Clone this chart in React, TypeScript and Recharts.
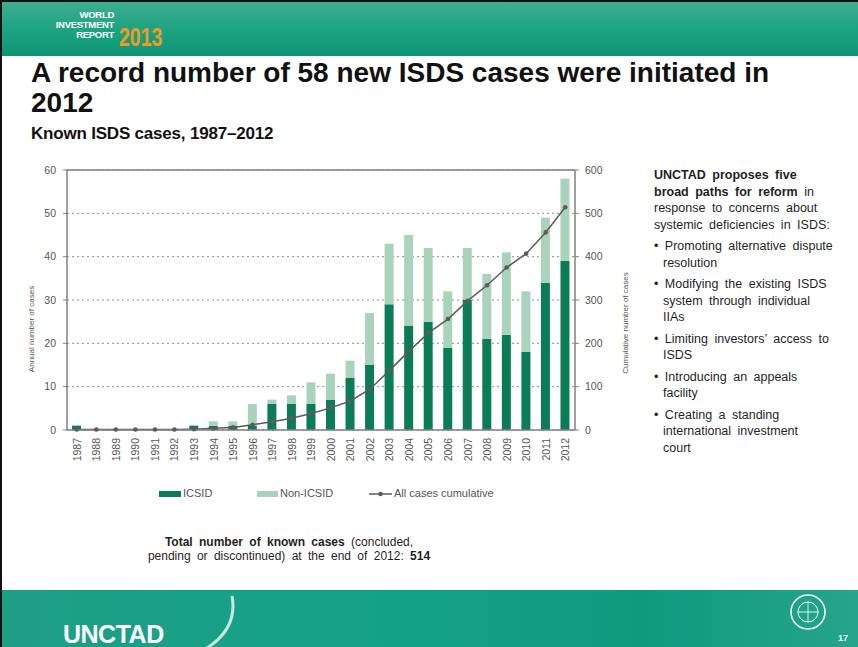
import {
  Bar,
  CartesianGrid,
  ComposedChart,
  Line,
  ReferenceLine,
  XAxis,
  YAxis,
} from "recharts";

const years = [
  "1987", "1988", "1989", "1990", "1991", "1992", "1993", "1994", "1995",
  "1996", "1997", "1998", "1999", "2000", "2001", "2002", "2003", "2004",
  "2005", "2006", "2007", "2008", "2009", "2010", "2011", "2012",
];
const icsidCases = [
  1, 0, 0, 0, 0, 0, 1, 1, 1, 1, 6, 6, 6, 7, 12, 15, 29, 24, 25, 19, 30, 21,
  22, 18, 34, 39,
];
const nonIcsidCases = [
  0, 0, 0, 0, 0, 0, 0, 1, 1, 5, 1, 2, 5, 6, 4, 12, 14, 21, 17, 13, 12, 15,
  19, 14, 15, 19,
];
const cumulativeCases = [
  1, 1, 1, 1, 1, 1, 2, 4, 6, 12, 19, 27, 38, 51, 67, 94, 137, 182, 224, 256,
  298, 334, 375, 407, 456, 514,
];
const annualTicks = [0, 10, 20, 30, 40, 50, 60];
const cumulativeTicks = [0, 100, 200, 300, 400, 500, 600];

const ICSID_GREEN = "#0b7d56";
const NON_ICSID_GREEN = "#aad3bd";
const LINE_GREY = "#5b5b5b";
const AXIS_GREY = "#808080";
const TEXT_GREY = "#555";
const FONT = "'Liberation Sans', Arial, sans-serif";

const data = years.map((year, i) => ({
  year,
  icsid: icsidCases[i],
  nonIcsid: nonIcsidCases[i],
  cumulative: cumulativeCases[i],
}));

// year labels read bottom-to-top, ending just under the axis
function YearTick({ x, y, payload }: any) {
  return (
    <text
      x={x}
      y={y}
      transform={`rotate(-90 ${x} ${y})`}
      textAnchor="end"
      dominantBaseline="central"
      fontSize={10.5}
      fontFamily={FONT}
      fill={TEXT_GREY}
    >
      {payload.value}
    </text>
  );
}

const proposals = [
  ["Promoting alternative dispute", "resolution"],
  ["Modifying the existing ISDS", "system through individual", "IIAs"],
  ["Limiting investors\u2019 access to", "ISDS"],
  ["Introducing an appeals", "facility"],
  ["Creating a standing", "international investment", "court"],
];

function SidePanel() {
  const line = { height: 16.5, whiteSpace: "nowrap" as const };
  return (
    <div
      style={{
        position: "absolute",
        left: 652,
        top: 165,
        fontSize: 12.5,
        lineHeight: "16.5px",
        wordSpacing: 3,
        color: "#1f1f1f",
      }}
    >
      <div style={line}>
        <b>UNCTAD proposes five</b>
      </div>
      <div style={line}>
        <b>broad paths for reform</b> in
      </div>
      <div style={line}>response to concerns about</div>
      <div style={line}>systemic deficiencies in ISDS:</div>
      {proposals.map((rows) => (
        <div key={rows[0]} style={{ marginTop: 5 }}>
          {rows.map((r, j) => (
            <div key={r} style={{ ...line, paddingLeft: j === 0 ? 0 : 9 }}>
              {j === 0 ? "\u2022 " : ""}
              {r}
            </div>
          ))}
        </div>
      ))}
    </div>
  );
}

function LegendRow() {
  const label = {
    position: "absolute" as const,
    top: 485,
    fontSize: 11,
    color: TEXT_GREY,
    whiteSpace: "nowrap" as const,
  };
  return (
    <>
      <div style={{ position: "absolute", left: 157, top: 489, width: 22, height: 6, background: ICSID_GREEN }} />
      <div style={{ ...label, left: 181 }}>ICSID</div>
      <div style={{ position: "absolute", left: 255, top: 489, width: 21, height: 6, background: NON_ICSID_GREEN }} />
      <div style={{ ...label, left: 278 }}>Non-ICSID</div>
      <svg style={{ position: "absolute", left: 367, top: 487 }} width={23} height={10}>
        <line x1={0} y1={5} x2={23} y2={5} stroke={LINE_GREY} strokeWidth={1.5} />
        <circle cx={11.5} cy={5} r={2.3} fill={LINE_GREY} />
      </svg>
      <div style={{ ...label, left: 392 }}>All cases cumulative</div>
    </>
  );
}

export default function App() {
  return (
    <div
      style={{
        position: "absolute",
        left: 0,
        top: 0,
        width: 858,
        height: 647,
        overflow: "hidden",
        background: "#fff",
        fontFamily: FONT,
        boxSizing: "border-box",
        borderTop: "2px solid #111",
        borderLeft: "2px solid #111",
      }}
    >
      {/* header band */}
      <div
        style={{
          position: "absolute",
          left: 0,
          top: 0,
          width: 858,
          height: 54,
          background: "linear-gradient(180deg, #3fae90 0%, #1aa281 55%, #0f9575 100%)",
        }}
      >
        <div
          style={{
            position: "absolute",
            left: 18,
            top: 8,
            width: 94,
            textAlign: "right",
            color: "#fff",
            fontWeight: 700,
            fontSize: 9.5,
            lineHeight: "10px",
            letterSpacing: -0.3,
          }}
        >
          <div>WORLD</div>
          <div>INVESTMENT</div>
          <div>REPORT</div>
        </div>
        <div
          style={{
            position: "absolute",
            left: 117,
            top: 23,
            color: "#f39a22",
            fontWeight: 700,
            fontSize: 25,
            lineHeight: "25px",
            transform: "scaleX(0.78)",
            transformOrigin: "left",
          }}
        >
          2013
        </div>
      </div>

      <div
        style={{
          position: "absolute",
          left: 29,
          top: 56,
          fontSize: 28,
          fontWeight: 700,
          lineHeight: "30px",
          color: "#111",
        }}
      >
        A record number of 58 new ISDS cases were initiated in
        <br />
        2012
      </div>
      <div
        style={{
          position: "absolute",
          left: 29,
          top: 122,
          fontSize: 17,
          fontWeight: 700,
          color: "#111",
          letterSpacing: -0.2,
        }}
      >
        Known ISDS cases, 1987–2012
      </div>

      <div style={{ position: "absolute", left: 0, top: 150 }}>
        <ComposedChart
          width={660}
          height={330}
          data={data}
          margin={{ top: 18, right: 37, bottom: 8, left: 15 }}
          barSize={9}
        >
          <CartesianGrid
            yAxisId="left"
            vertical={false}
            stroke="#8c8c8c"
            strokeDasharray="2 3"
          />
          <XAxis
            dataKey="year"
            interval={0}
            height={44}
            tickLine={false}
            tickSize={0}
            tickMargin={8}
            tick={<YearTick />}
            axisLine={{ stroke: AXIS_GREY, strokeWidth: 1.5 }}
          />
          <YAxis
            yAxisId="left"
            domain={[0, 60]}
            ticks={annualTicks}
            width={50}
            tickSize={4}
            tickMargin={7}
            tick={{ fontSize: 10.5, fill: TEXT_GREY, fontFamily: FONT }}
            axisLine={{ stroke: AXIS_GREY, strokeWidth: 1.5 }}
            tickLine={{ stroke: AXIS_GREY }}
            label={{
              value: "Annual number of cases",
              angle: -90,
              position: "center",
              dx: -11,
              dy: 29,
              fontSize: 8,
              fill: TEXT_GREY,
              fontFamily: FONT,
            }}
          />
          <YAxis
            yAxisId="right"
            orientation="right"
            domain={[0, 600]}
            ticks={cumulativeTicks}
            width={50}
            tickSize={4}
            tickMargin={6}
            tick={{ fontSize: 10.5, fill: TEXT_GREY, fontFamily: FONT }}
            axisLine={{ stroke: AXIS_GREY, strokeWidth: 1.5 }}
            tickLine={{ stroke: AXIS_GREY }}
            label={{
              value: "Cumulative number of cases",
              angle: -90,
              position: "center",
              dx: 25,
              dy: 23,
              fontSize: 8,
              fill: TEXT_GREY,
              fontFamily: FONT,
            }}
          />
          <ReferenceLine yAxisId="left" y={60} stroke={AXIS_GREY} strokeWidth={1.5} />
          <Bar
            yAxisId="left"
            dataKey="icsid"
            stackId="cases"
            fill={ICSID_GREEN}
            isAnimationActive={false}
          />
          <Bar
            yAxisId="left"
            dataKey="nonIcsid"
            stackId="cases"
            fill={NON_ICSID_GREEN}
            isAnimationActive={false}
          />
          <Line
            yAxisId="right"
            type="linear"
            dataKey="cumulative"
            stroke={LINE_GREY}
            strokeWidth={1.5}
            dot={{ r: 2.3, fill: LINE_GREY, strokeWidth: 0 }}
            activeDot={false}
            isAnimationActive={false}
          />
        </ComposedChart>
      </div>

      <LegendRow />
      <SidePanel />

      <div
        style={{
          position: "absolute",
          left: 107,
          top: 533,
          width: 360,
          textAlign: "center",
          fontSize: 12,
          lineHeight: "14px",
          wordSpacing: 3,
          color: "#1f1f1f",
        }}
      >
        <b>Total number of known cases</b> (concluded,
        <br />
        pending or discontinued) at the end of 2012: <b>514</b>
      </div>

      {/* footer band */}
      <div
        style={{
          position: "absolute",
          left: 0,
          top: 588,
          width: 858,
          height: 59,
          background: "linear-gradient(90deg, #1d9f86 0%, #14a286 45%, #0f9a7e 75%, #25a58c 100%)",
        }}
      >
        <svg style={{ position: "absolute", left: 0, top: 0 }} width={858} height={59}>
          <path
            d="M205 58 Q 236 38 230 6"
            fill="none"
            stroke="#e8f5f0"
            strokeWidth={3}
            opacity={0.85}
          />
          <circle cx={806} cy={22} r={17} fill="none" stroke="#fff" strokeWidth={1.5} />
          <circle cx={806} cy={22} r={10} fill="none" stroke="#fff" strokeWidth={1} />
          <line x1={796} y1={22} x2={816} y2={22} stroke="#fff" strokeWidth={0.8} />
          <line x1={806} y1={12} x2={806} y2={32} stroke="#fff" strokeWidth={0.8} />
        </svg>
        <div
          style={{
            position: "absolute",
            left: 61,
            top: 30,
            color: "#fff",
            fontWeight: 700,
            fontSize: 25,
            letterSpacing: -0.5,
          }}
        >
          UNCTAD
        </div>
        <div
          style={{
            position: "absolute",
            left: 836,
            top: 43,
            color: "#fff",
            fontWeight: 700,
            fontSize: 9,
          }}
        >
          17
        </div>
      </div>
    </div>
  );
}
